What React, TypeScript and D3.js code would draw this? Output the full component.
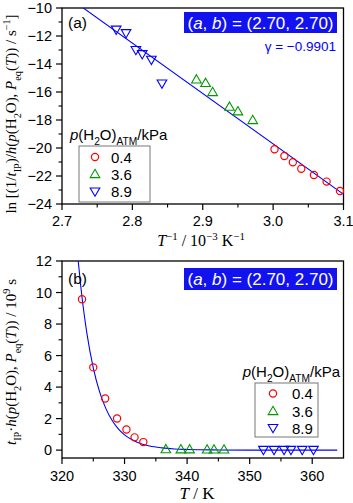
import React from 'react';
import * as d3 from 'd3';

// panel (a): ln rate vs 1/T
const invT_04 = [3.002, 3.016, 3.028, 3.040, 3.058, 3.076, 3.095];
const lnRate_04 = [-20.09, -20.57, -21.02, -21.48, -21.93, -22.40, -23.07];
const invT_36 = [2.891, 2.904, 2.914, 2.938, 2.950, 2.971];
const lnRate_36 = [-15.10, -15.35, -16.0, -17.05, -17.38, -18.0];
const invT_89 = [2.777, 2.791, 2.805, 2.814, 2.827, 2.842];
const lnRate_89 = [-11.55, -11.8, -13.0, -13.3, -13.7, -15.4];
const fitInvT = [2.72, 3.11];
const fitLn = [-9.63, -23.67];

// panel (b): t_IP*h vs T
const T_04 = [323.2, 325.0, 326.9, 328.8, 330.3, 331.6, 333.0];
const tIP_04 = [9.57, 5.25, 3.28, 2.01, 1.31, 0.81, 0.51];
const T_36 = [336.6, 339.0, 340.4, 343.2, 344.3, 345.9];
const tIP_36 = [0.06, 0.05, 0.05, 0.04, 0.04, 0.04];
const T_89 = [352.2, 353.9, 355.5, 356.6, 358.4, 360.2];
const tIP_89 = [0.01, 0.01, 0.01, 0.01, 0.01, 0.01];
const curveT = [322.5, 323, 323.5, 324, 325, 326, 327, 328, 329, 330, 331, 332, 334, 336, 338, 340, 345, 350, 355, 364];
const curveY = [12.37, 10.4, 8.75, 7.36, 5.22, 3.71, 2.65, 1.89, 1.35, 0.97, 0.7, 0.5, 0.26, 0.14, 0.07, 0.04, 0.01, 0, 0, 0];

const pLabels = ['0.4', '3.6', '8.9'];
const colors = ['#ff0000', '#009900', '#0000ff'];
const shapes = ['circle', 'up', 'down'];

const xTicksA = [2.7, 2.8, 2.9, 3.0, 3.1];
const yTicksA = [-10, -12, -14, -16, -18, -20, -22, -24];
const xTicksB = [320, 330, 340, 350, 360];
const yTicksB = [0, 2, 4, 6, 8, 10, 12];

const SANS = '"Liberation Sans", Arial, sans-serif';
const SERIF = '"Liberation Serif", "Times New Roman", serif';

const triPath = d3.symbol().type(d3.symbolTriangle).size(40)();

function Marker({ shape, x, y, color }) {
  if (shape === 'circle')
    return <circle cx={x} cy={y} r={3.6} fill="none" stroke={color} strokeWidth={1.2} />;
  return (
    <path d={triPath} transform={`translate(${x},${y + (shape === 'up' ? 0.8 : -0.8)}) rotate(${shape === 'down' ? 180 : 0})`}
      fill="none" stroke={color} strokeWidth={1.1} />
  );
}

function Rich({ segs, size, supShift = 0.38 }) {
  let cur = 0;
  return segs.map((s, i) => {
    const target = s.s === 'sub' ? size * 0.3 : s.s === 'sup' ? -size * supShift : 0;
    const dy = target - cur;
    cur = target;
    return (
      <tspan key={i} dy={dy} fontSize={s.s ? size * 0.68 : size} fontStyle={s.i ? 'italic' : 'normal'}>{s.t}</tspan>
    );
  });
}

const legendTitle = [
  { t: 'p', i: true }, { t: '(H' }, { t: '2', s: 'sub' }, { t: 'O)' }, { t: 'ATM', s: 'sub' }, { t: '/kPa' },
];
const abLabel = [{ t: '(' }, { t: 'a', i: true }, { t: ', ' }, { t: 'b', i: true }, { t: ') = (2.70, 2.70)' }];

function Axes({ x, y, xTicks, yTicks, xMinor, yMinor, xFmt, top, bottom, left, right, labelGap }) {
  return (
    <g>
      <rect x={left} y={top} width={right - left} height={bottom - top} fill="none" stroke="#000" strokeWidth={1.3} />
      {xTicks.map(t => (
        <g key={'x' + t}>
          <line x1={x(t)} x2={x(t)} y1={bottom} y2={bottom + 6} stroke="#000" strokeWidth={1.2} />
          <text x={x(t)} y={bottom + labelGap} textAnchor="middle" fontFamily={SANS} fontSize={14.5}>{xFmt(t)}</text>
        </g>
      ))}
      {xMinor.map(t => (
        <line key={'xm' + t} x1={x(t)} x2={x(t)} y1={bottom} y2={bottom + 3.5} stroke="#000" strokeWidth={1.1} />
      ))}
      {yTicks.map(t => (
        <g key={'y' + t}>
          <line x1={left - 6} x2={left} y1={y(t)} y2={y(t)} stroke="#000" strokeWidth={1.2} />
          <text x={left - 10} y={y(t) + 5} textAnchor="end" fontFamily={SANS} fontSize={14.5}>{t < 0 ? '\u2212' + Math.abs(t) : t}</text>
        </g>
      ))}
      {yMinor.map(t => (
        <line key={'ym' + t} x1={left - 3.5} x2={left} y1={y(t)} y2={y(t)} stroke="#000" strokeWidth={1.1} />
      ))}
    </g>
  );
}

function Legend({ x, y, w, h, titleX, titleY, anchor, mx, tx, rows }) {
  return (
    <g>
      <text x={titleX} y={titleY} textAnchor={anchor} fontFamily={SANS} style={{ whiteSpace: 'pre' }}>
        <Rich segs={legendTitle} size={15} />
      </text>
      <rect x={x} y={y} width={w} height={h} fill="#fff" stroke="#777" strokeWidth={1} />
      {pLabels.map((p, i) => (
        <g key={p}>
          <Marker shape={shapes[i]} x={mx} y={rows[i]} color={colors[i]} />
          <text x={tx} y={rows[i] + 5.5} fontFamily={SANS} fontSize={15}>{p}</text>
        </g>
      ))}
    </g>
  );
}

export default function App() {
  const L = 62, R = 343.5;
  // panel (a)
  const aTop = 8, aBot = 204;
  const xA = d3.scaleLinear().domain([2.7, 3.1]).range([L, R]);
  const yA = d3.scaleLinear().domain([-24, -10]).range([aBot, aTop]);
  // panel (b)
  const bTop = 261, bBot = 458;
  const xB = d3.scaleLinear().domain([320, 365]).range([L, R]);
  const yB = d3.scaleLinear().domain([-0.5, 12]).range([bBot, bTop]);

  const seriesA = [
    [invT_04, lnRate_04], [invT_36, lnRate_36], [invT_89, lnRate_89],
  ];
  const seriesB = [
    [T_04, tIP_04], [T_36, tIP_36], [T_89, tIP_89],
  ];

  const fitLine = d3.line().x(d => xA(d[0])).y(d => yA(d[1]))(fitInvT.map((v, i) => [v, fitLn[i]]));
  const curveLine = d3.line().curve(d3.curveMonotoneX).x(d => xB(d[0])).y(d => yB(d[1]))(curveT.map((v, i) => [v, curveY[i]]));

  const yLabelA = [
    { t: 'ln [(1/' }, { t: 't', i: true }, { t: 'IP', s: 'sub' }, { t: ')/' }, { t: 'h', i: true }, { t: '(' },
    { t: 'p', i: true }, { t: '(H' }, { t: '2', s: 'sub' }, { t: 'O), ' }, { t: 'P', i: true }, { t: 'eq', s: 'sub' },
    { t: '(' }, { t: 'T', i: true }, { t: ')) / s' }, { t: '\u22121', s: 'sup' }, { t: ']' },
  ];
  const yLabelB = [
    { t: 't', i: true }, { t: 'IP', s: 'sub' }, { t: '\u00b7' }, { t: 'h', i: true }, { t: '(' },
    { t: 'p', i: true }, { t: '(H' }, { t: '2', s: 'sub' }, { t: 'O), ' }, { t: 'P', i: true }, { t: 'eq', s: 'sub' },
    { t: '(' }, { t: 'T', i: true }, { t: ')) / 10' }, { t: '9', s: 'sup' }, { t: ' s' },
  ];
  const xLabelA = [
    { t: 'T', i: true }, { t: '\u22121', s: 'sup' }, { t: ' / 10' }, { t: '\u22123', s: 'sup' }, { t: ' K' }, { t: '\u22121', s: 'sup' },
  ];

  return (
    <svg width={353} height={503} style={{ position: 'absolute', left: 0, top: 0, background: '#fff' }}>
      <defs>
        <clipPath id="clipA"><rect x={L} y={aTop} width={R - L} height={aBot - aTop} /></clipPath>
        <clipPath id="clipB"><rect x={L} y={bTop} width={R - L} height={bBot - bTop} /></clipPath>
      </defs>

      {/* panel (a) */}
      <Axes x={xA} y={yA} xTicks={xTicksA} yTicks={yTicksA}
        xMinor={d3.range(2.75, 3.1, 0.1)} yMinor={d3.range(-23, -10, 2)}
        xFmt={t => t.toFixed(1)} top={aTop} bottom={aBot} left={L} right={R} labelGap={21.5} />
      <path d={fitLine} clipPath="url(#clipA)" fill="none" stroke="#0000ff" strokeWidth={1.1} />
      {seriesA.map((s, k) => s[0].map((v, i) => (
        <Marker key={k + '-' + i} shape={shapes[k]} x={xA(v)} y={yA(s[1][i])} color={colors[k]} />
      )))}
      <text x={68} y={28} fontFamily={SANS} fontSize={15.5}>(a)</text>
      <rect x={184} y={12} width={153} height={21} fill="#1212ee" />
      <text x={260.5} y={28.5} textAnchor="middle" fill="#fff" fontFamily={SANS} style={{ whiteSpace: 'pre' }}>
        <Rich segs={abLabel} size={17} />
      </text>
      <text x={336} y={51} textAnchor="end" fill="#0000ff" fontFamily={SANS} fontSize={13.5}>{'\u03b3 = \u22120.9901'}</text>
      <Legend x={79} y={146} w={71} h={56} titleX={70} titleY={140} anchor="start" mx={95} tx={111}
        rows={[157, 174, 191.5]} />
      <text x={201} y={245.5} textAnchor="middle" fontFamily={SERIF} style={{ whiteSpace: 'pre' }}>
        <Rich segs={xLabelA} size={16} supShift={0.33} />
      </text>
      <text transform="translate(16,114) rotate(-90)" textAnchor="middle" fontFamily={SERIF} style={{ whiteSpace: 'pre' }}>
        <Rich segs={yLabelA} size={15} />
      </text>

      {/* panel (b) */}
      <Axes x={xB} y={yB} xTicks={xTicksB} yTicks={yTicksB}
        xMinor={[325, 335, 345, 355]} yMinor={[1, 3, 5, 7, 9, 11]}
        xFmt={t => String(t)} top={bTop} bottom={bBot} left={L} right={R} labelGap={23} />
      <path d={curveLine} clipPath="url(#clipB)" fill="none" stroke="#0000ff" strokeWidth={1.1} />
      {seriesB.map((s, k) => s[0].map((v, i) => (
        <Marker key={k + '-' + i} shape={shapes[k]} x={xB(v)} y={yB(s[1][i])} color={colors[k]} />
      )))}
      <text x={68} y={284} fontFamily={SANS} fontSize={15.5}>(b)</text>
      <rect x={184} y={268} width={153} height={22} fill="#1212ee" />
      <text x={260.5} y={285} textAnchor="middle" fill="#fff" fontFamily={SANS} style={{ whiteSpace: 'pre' }}>
        <Rich segs={abLabel} size={17} />
      </text>
      <Legend x={255} y={383} w={63} h={54} titleX={340} titleY={377} anchor="end" mx={273} tx={292}
        rows={[393.5, 411, 428]} />
      <text x={197} y={499} textAnchor="middle" fontFamily={SERIF} fontSize={17} style={{ whiteSpace: 'pre' }}>
        <tspan fontStyle="italic">T</tspan><tspan>{' / K'}</tspan>
      </text>
      <text transform="translate(16,362) rotate(-90)" textAnchor="middle" fontFamily={SERIF} style={{ whiteSpace: 'pre' }}>
        <Rich segs={yLabelB} size={15} />
      </text>
    </svg>
  );
}
